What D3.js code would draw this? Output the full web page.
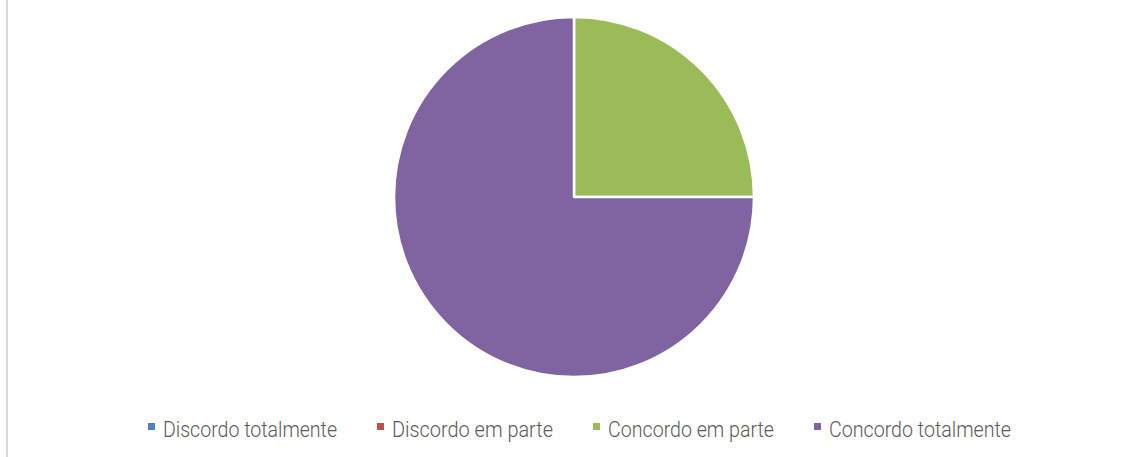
<!DOCTYPE html>
<html>
<head>
<meta charset="utf-8">
<script src="https://cdn.jsdelivr.net/npm/d3@7"></script>
<style>
  html, body { margin: 0; padding: 0; background: #fff; }
  svg { display: block; }
</style>
</head>
<body>
<svg id="chart" width="1128" height="457"></svg>
<script>
// Response categories and their shares (%)
const categories = ["Discordo totalmente", "Discordo em parte", "Concordo em parte", "Concordo totalmente"];
const values = [0, 0, 25, 75];
const colors = ["#4f81bd", "#c0504d", "#9bbb59", "#8064a2"];

const svg = d3.select("#chart");
const W = 1128, H = 457;

// thin frame line at the left
svg.append("rect").attr("x", 6).attr("y", 0).attr("width", 2).attr("height", H).attr("fill", "#d9d9d9");

const data = categories.map((c, i) => ({ name: c, value: values[i], color: colors[i] }));

const cx = 574, cy = 197, r = 180;
const pie = d3.pie().sort(null).value(d => d.value).startAngle(0).endAngle(2 * Math.PI);
const arc = d3.arc().innerRadius(0).outerRadius(r);

svg.append("g")
  .attr("transform", `translate(${cx},${cy})`)
  .selectAll("path")
  .data(pie(data).filter(d => d.data.value > 0))
  .join("path")
  .attr("d", arc)
  .attr("fill", d => d.data.color)
  .attr("stroke", "#fff")
  .attr("stroke-width", 2.5)
  .attr("stroke-linejoin", "round");

// legend along the bottom
const legendX = [148, 377, 593, 814];
const legendW = [174, 161, 166, 182];
const legend = svg.append("g").attr("font-family", "Roboto, sans-serif").attr("font-weight", 300)
  .attr("font-size", 22.5).attr("fill", "#595959");

const items = legend.selectAll("g").data(data).join("g")
  .attr("transform", (d, i) => `translate(${legendX[i]},0)`);
items.append("rect").attr("x", 0).attr("y", 423).attr("width", 7).attr("height", 7).attr("fill", d => d.color);
items.append("text").attr("x", 15).attr("y", 437).text(d => d.name)
  .attr("textLength", (d, i) => legendW[i]).attr("lengthAdjust", "spacingAndGlyphs");
</script>
</body>
</html>
